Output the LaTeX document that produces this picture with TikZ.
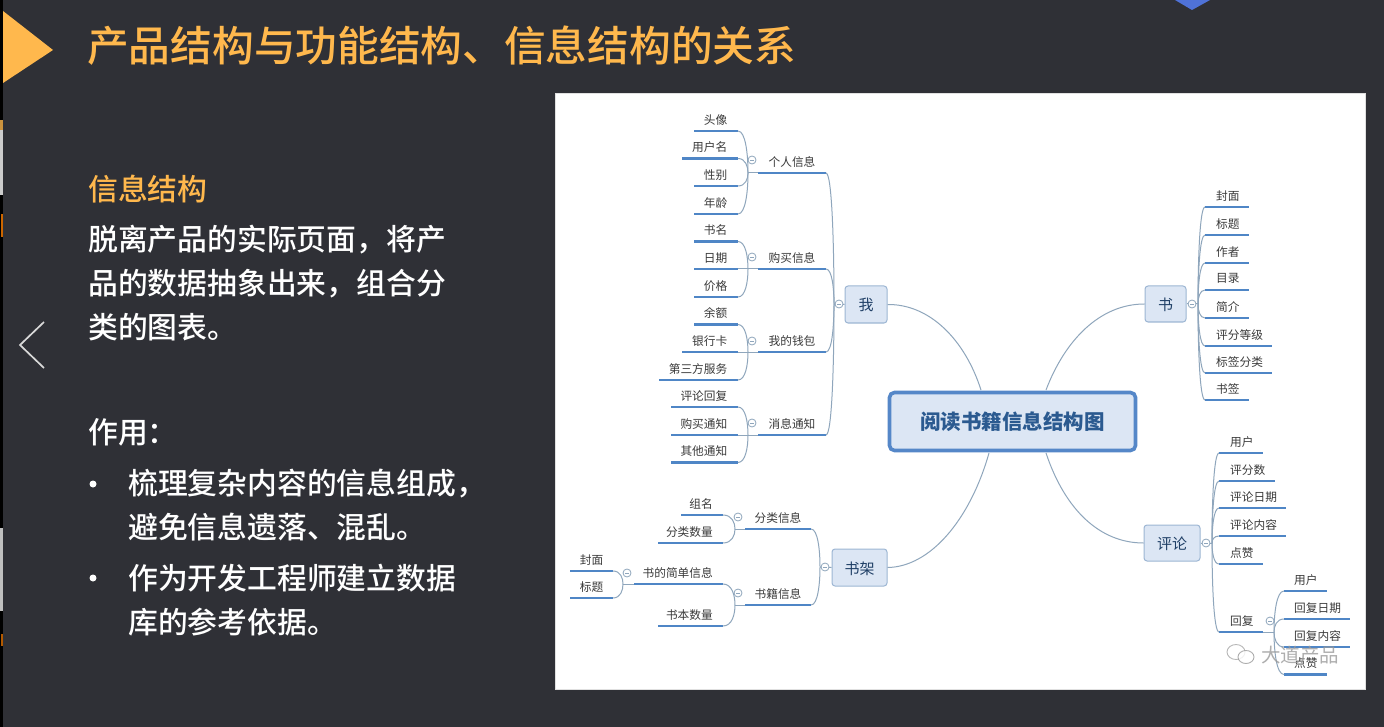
\documentclass[tikz,border=0pt]{standalone}
\usepackage{fontspec}
\setmainfont{Noto Sans CJK SC}
\newfontfamily\medfont[UprightFont={* Medium}]{Noto Sans CJK SC}
\usetikzlibrary{calc}
\definecolor{bgdark}{HTML}{2F3036}
\definecolor{accent}{HTML}{FFB84D}
\definecolor{underblue}{HTML}{4F86C6}
\definecolor{branch}{HTML}{8FA6BC}
\definecolor{boxfill}{HTML}{DCE6F4}
\definecolor{boxline}{HTML}{9DB6D3}
\definecolor{rootline}{HTML}{5587C8}
\definecolor{ink}{HTML}{3A3A3A}
\definecolor{navy}{HTML}{1F3F66}
\definecolor{rootink}{HTML}{2B5A90}
\definecolor{wmgray}{HTML}{9A9A9A}
\definecolor{diamondblue}{HTML}{4F72D8}
\tikzset{
  txt/.style={inner sep=0pt,text=ink,font=\fontsize{11.7}{14}\selectfont},
  underline/.style={draw=underblue,line width=2.2pt},
  br/.style={draw=branch,line width=1pt},
  mainl/.style={draw=branch,line width=1pt},
  topic/.style={draw=boxline,fill=boxfill,line width=1pt,rounded corners=3pt,inner sep=0pt,text=navy,font=\fontsize{15}{18}\selectfont},
  centre/.style={draw=rootline,fill=boxfill,line width=3.6pt,rounded corners=5pt,inner sep=0pt,text=rootink,font=\bfseries\fontsize{20.5}{24}\selectfont,minimum width=246,minimum height=58},
  fold/.style={circle,draw=branch,fill=white,line width=0.8pt,minimum size=8,inner sep=0pt,
    path picture={\draw[branch,line width=0.6pt,shorten >=2pt,shorten <=2pt] (path picture bounding box.west) -- (path picture bounding box.east);}},
  heading/.style={inner sep=0pt,anchor=west,text=white,font=\medfont\fontsize{29.8}{34}\selectfont},
}
% name, line left, line right, line y, text x, text anchor, text
\newcommand{\leafnode}[7]{%
  \coordinate (#1-a) at (#2,#4);
  \coordinate (#1-b) at (#3,#4);
  \node[txt,anchor=#6] (#1) at (#5,#4-11.3) {#7};
  \draw[underline] (#1-a) -- (#1-b);
}
% elbow connector: leaves the junction vertically, ends horizontally
\newcommand{\conn}[2]{\draw[br] (#1) .. controls ($(#1)!0.45!(#1 |- #2)$) and ($(#1 |- #2)!0.25!(#2)$) .. (#2);}
\newcommand{\upl}[2]{\conn{#1}{#2-b}}
\newcommand{\dnl}[2]{\conn{#1}{#2-b}}
\newcommand{\upr}[2]{\conn{#1}{#2-a}}
\newcommand{\dnr}[2]{\conn{#1}{#2-a}}
\newcommand{\lowered}[1]{\raisebox{-6.5pt}[0pt][0pt]{#1}}
\begin{document}
\begin{tikzpicture}[x=1pt,y=-1pt]
\useasboundingbox (0,0) rectangle (1384,727);
\fill[bgdark] (0,0) rectangle (1384,727);
\fill[black] (0,0) rectangle (3,727);
% slivers at the left edge
\fill[accent!80!black] (0,120) rectangle (3,130);
\fill[black!20] (0,130) rectangle (3,195);
\fill[orange!80!black] (1,214) rectangle (3,237);
\fill[black!25] (0,528) rectangle (3,611);
\fill[orange!70!black] (1,634) rectangle (3,646);
% slide header
\fill[accent] (3,11) -- (53,50) -- (3,83) -- cycle;
\fill[diamondblue] (1175,0) -- (1192,10) -- (1210,0) -- cycle;
\node[inner sep=0pt,anchor=west,text=accent,font=\medfont\fontsize{41.7}{46}\selectfont] (title) at (87,46) {产品结构与功能结构、信息结构的关系};
% left text
\node[heading,text=accent] (h1) at (88,189) {信息结构};
\node[heading] (p1) at (88,240) {脱离产品的实际页面，将产};
\node[heading] (p2) at (88,284) {品的数据抽象出来，组合分};
\node[heading] (p3) at (88,327) {类的图表。};
\node[heading] (h2) at (88,432) {作用：};
\node[heading] (b1) at (128,484) {梳理复杂内容的信息组成，};
\node[heading] (b2) at (128,527) {避免信息遗落、混乱。};
\node[heading] (b3) at (128,578) {作为开发工程师建立数据};
\node[heading] (b4) at (128,622) {库的参考依据。};
\fill[white] (93,484) circle[radius=3.5];
\fill[white] (93,578) circle[radius=3.5];
\draw[white!85!black,line width=1.7pt] (44,322) -- (20,345) -- (44,368);
% white panel
\fill[white,draw=black!12,line width=1pt] (555.5,93.5) rectangle (1365.5,689.5);
% central and main topics
\coordinate (rootA) at (981,390);
\coordinate (rootB) at (1046,390);
\coordinate (rootC) at (989,453);
\coordinate (rootD) at (1046,453);
\node[topic,minimum width=42,minimum height=37] (me) at (866,304.5) {\lowered{我}};
\node[topic,minimum width=55,minimum height=37] (shelf) at (859.5,567.5) {\lowered{书架}};
\node[topic,minimum width=41,minimum height=36] (book) at (1165.5,304) {\lowered{书}};
\node[topic,minimum width=56,minimum height=36] (cmt) at (1172,543) {\lowered{评论}};
\draw[mainl] (rootA) .. controls (965,340) and (930,304) .. (me.east);
\draw[mainl] (rootB) .. controls (1065,340) and (1100,304) .. (book.west);
\draw[mainl] (rootC) .. controls (970,520) and (930,567) .. (shelf.east);
\draw[mainl] (rootD) .. controls (1065,510) and (1100,543) .. (cmt.west);
\node[centre] (root) at (1012.5,421.5) {阅读书籍信息结构图};
% --- 我
\coordinate (jme) at (834,304);
\draw[br] (jme) -- (me.west);
\leafnode{m1}{758}{826}{173}{792}{center}{个人信息}
\leafnode{m2}{758}{826}{269}{792}{center}{购买信息}
\leafnode{m3}{758}{826}{352}{792}{center}{我的钱包}
\leafnode{m4}{758}{826}{435}{792}{center}{消息通知}
\upl{jme}{m1}\upl{jme}{m2}\dnl{jme}{m3}\dnl{jme}{m4}
\coordinate (j1) at (748,173);
\draw[br] (j1) -- (m1-a);
\leafnode{a1}{694}{738}{131}{727.5}{east}{头像}
\leafnode{a2}{682}{738}{158.5}{727.5}{east}{用户名}
\leafnode{a3}{694}{738}{186}{727.5}{east}{性别}
\leafnode{a4}{694}{738}{214}{727.5}{east}{年龄}
\upl{j1}{a1}\upl{j1}{a2}\dnl{j1}{a3}\dnl{j1}{a4}
\coordinate (j2) at (748,269);
\draw[br] (j2) -- (m2-a);
\leafnode{b1l}{694}{738}{241.5}{727.5}{east}{书名}
\leafnode{b2l}{694}{738}{269}{727.5}{east}{日期}
\leafnode{b3l}{694}{738}{297}{727.5}{east}{价格}
\upl{j2}{b1l}\draw[br] (j2) -- (b2l-b);\dnl{j2}{b3l}
\coordinate (j3) at (748,352);
\draw[br] (j3) -- (m3-a);
\leafnode{c1}{694}{738}{324.5}{727.5}{east}{余额}
\leafnode{c2}{682}{738}{352}{727.5}{east}{银行卡}
\leafnode{c3}{659}{738}{380}{727.5}{east}{第三方服务}
\upl{j3}{c1}\draw[br] (j3) -- (c2-b);\dnl{j3}{c3}
\coordinate (j4) at (748,435);
\draw[br] (j4) -- (m4-a);
\leafnode{d1}{671}{738}{407}{727.5}{east}{评论回复}
\leafnode{d2}{671}{738}{435}{727.5}{east}{购买通知}
\leafnode{d3}{671}{738}{462.5}{727.5}{east}{其他通知}
\upl{j4}{d1}\draw[br] (j4) -- (d2-b);\dnl{j4}{d3}
\node[fold] (fme) at (839,304) {};
\node[fold] (f1) at (752,160) {};
\node[fold] (f2) at (752,257) {};
\node[fold] (f3) at (752,341) {};
\node[fold] (f4) at (752,423) {};
% --- 书架
\coordinate (jsh) at (820,567);
\draw[br] (jsh) -- (shelf.west);
\leafnode{s1}{745}{811}{529}{778}{center}{分类信息}
\leafnode{s2}{745}{811}{605}{778}{center}{书籍信息}
\upl{jsh}{s1}\dnl{jsh}{s2}
\coordinate (js1) at (735,529);
\draw[br] (js1) -- (s1-a);
\leafnode{e1}{681}{723}{515}{713}{east}{组名}
\leafnode{e2}{658}{723}{543}{713}{east}{分类数量}
\upl{js1}{e1}\dnl{js1}{e2}
\coordinate (js2) at (735,605);
\draw[br] (js2) -- (s2-a);
\leafnode{g1}{634}{723}{584}{713}{east}{书的简单信息}
\leafnode{g2}{658}{723}{626}{713}{east}{书本数量}
\upl{js2}{g1}\dnl{js2}{g2}
\coordinate (jg) at (623,584);
\draw[br] (jg) -- (g1-a);
\leafnode{k1}{570}{613}{571}{603.5}{east}{封面}
\leafnode{k2}{570}{613}{598}{603.5}{east}{标题}
\upl{jg}{k1}\dnl{jg}{k2}
\node[fold] (fsh) at (825,567) {};
\node[fold] (fs1) at (738,517) {};
\node[fold] (fs2) at (738,593) {};
\node[fold] (fg) at (627,573) {};
% --- 书
\coordinate (jbk) at (1198,304);
\draw[br] (book.east) -- (jbk);
\leafnode{r1}{1205}{1249}{207}{1216}{west}{封面}
\leafnode{r2}{1205}{1249}{235}{1216}{west}{标题}
\leafnode{r3}{1205}{1249}{263}{1216}{west}{作者}
\leafnode{r4}{1205}{1249}{290}{1216}{west}{目录}
\leafnode{r5}{1205}{1249}{318}{1216}{west}{简介}
\leafnode{r6}{1205}{1272}{346}{1216}{west}{评分等级}
\leafnode{r7}{1205}{1272}{373}{1216}{west}{标签分类}
\leafnode{r8}{1205}{1249}{400}{1216}{west}{书签}
\upr{jbk}{r1}\upr{jbk}{r2}\upr{jbk}{r3}\upr{jbk}{r4}
\dnr{jbk}{r5}\dnr{jbk}{r6}\dnr{jbk}{r7}\dnr{jbk}{r8}
\node[fold] (fbk) at (1192,304) {};
% --- 评论
\coordinate (jcm) at (1212,543);
\draw[br] (cmt.east) -- (jcm);
\leafnode{t1}{1219}{1263}{453}{1230}{west}{用户}
\leafnode{t2}{1219}{1275}{481}{1230}{west}{评分数}
\leafnode{t3}{1219}{1286}{508}{1230}{west}{评论日期}
\leafnode{t4}{1219}{1286}{536}{1230}{west}{评论内容}
\leafnode{t5}{1219}{1263}{564}{1230}{west}{点赞}
\leafnode{t6}{1219}{1263}{632}{1230}{west}{回复}
\upr{jcm}{t1}\upr{jcm}{t2}\upr{jcm}{t3}\upr{jcm}{t4}
\dnr{jcm}{t5}\dnr{jcm}{t6}
\node[fold] (fcm) at (1206,543) {};
\coordinate (jrp) at (1274,632);
\draw[br] (t6-b) -- (jrp);
\leafnode{u1}{1284}{1327}{591}{1294}{west}{用户}
\leafnode{u2}{1284}{1350}{619}{1294}{west}{回复日期}
\leafnode{u3}{1284}{1350}{647}{1294}{west}{回复内容}
\leafnode{u4}{1284}{1327}{674.5}{1294}{west}{点赞}
\upr{jrp}{u1}\upr{jrp}{u2}\dnr{jrp}{u3}\dnr{jrp}{u4}
\node[fold] (frp) at (1270,621) {};
% watermark
\node[inner sep=0pt,anchor=west,text=wmgray,opacity=0.8,font=\fontsize{19.5}{22}\selectfont] (wm) at (1261,655) {大道产品};
\draw[wmgray,line width=0.9pt,opacity=0.7] (1236,652) ellipse[x radius=9,y radius=7.5];
\draw[wmgray,line width=0.9pt,fill=white,opacity=0.8] (1246,657) ellipse[x radius=8,y radius=6.5];
\end{tikzpicture}
\end{document}
